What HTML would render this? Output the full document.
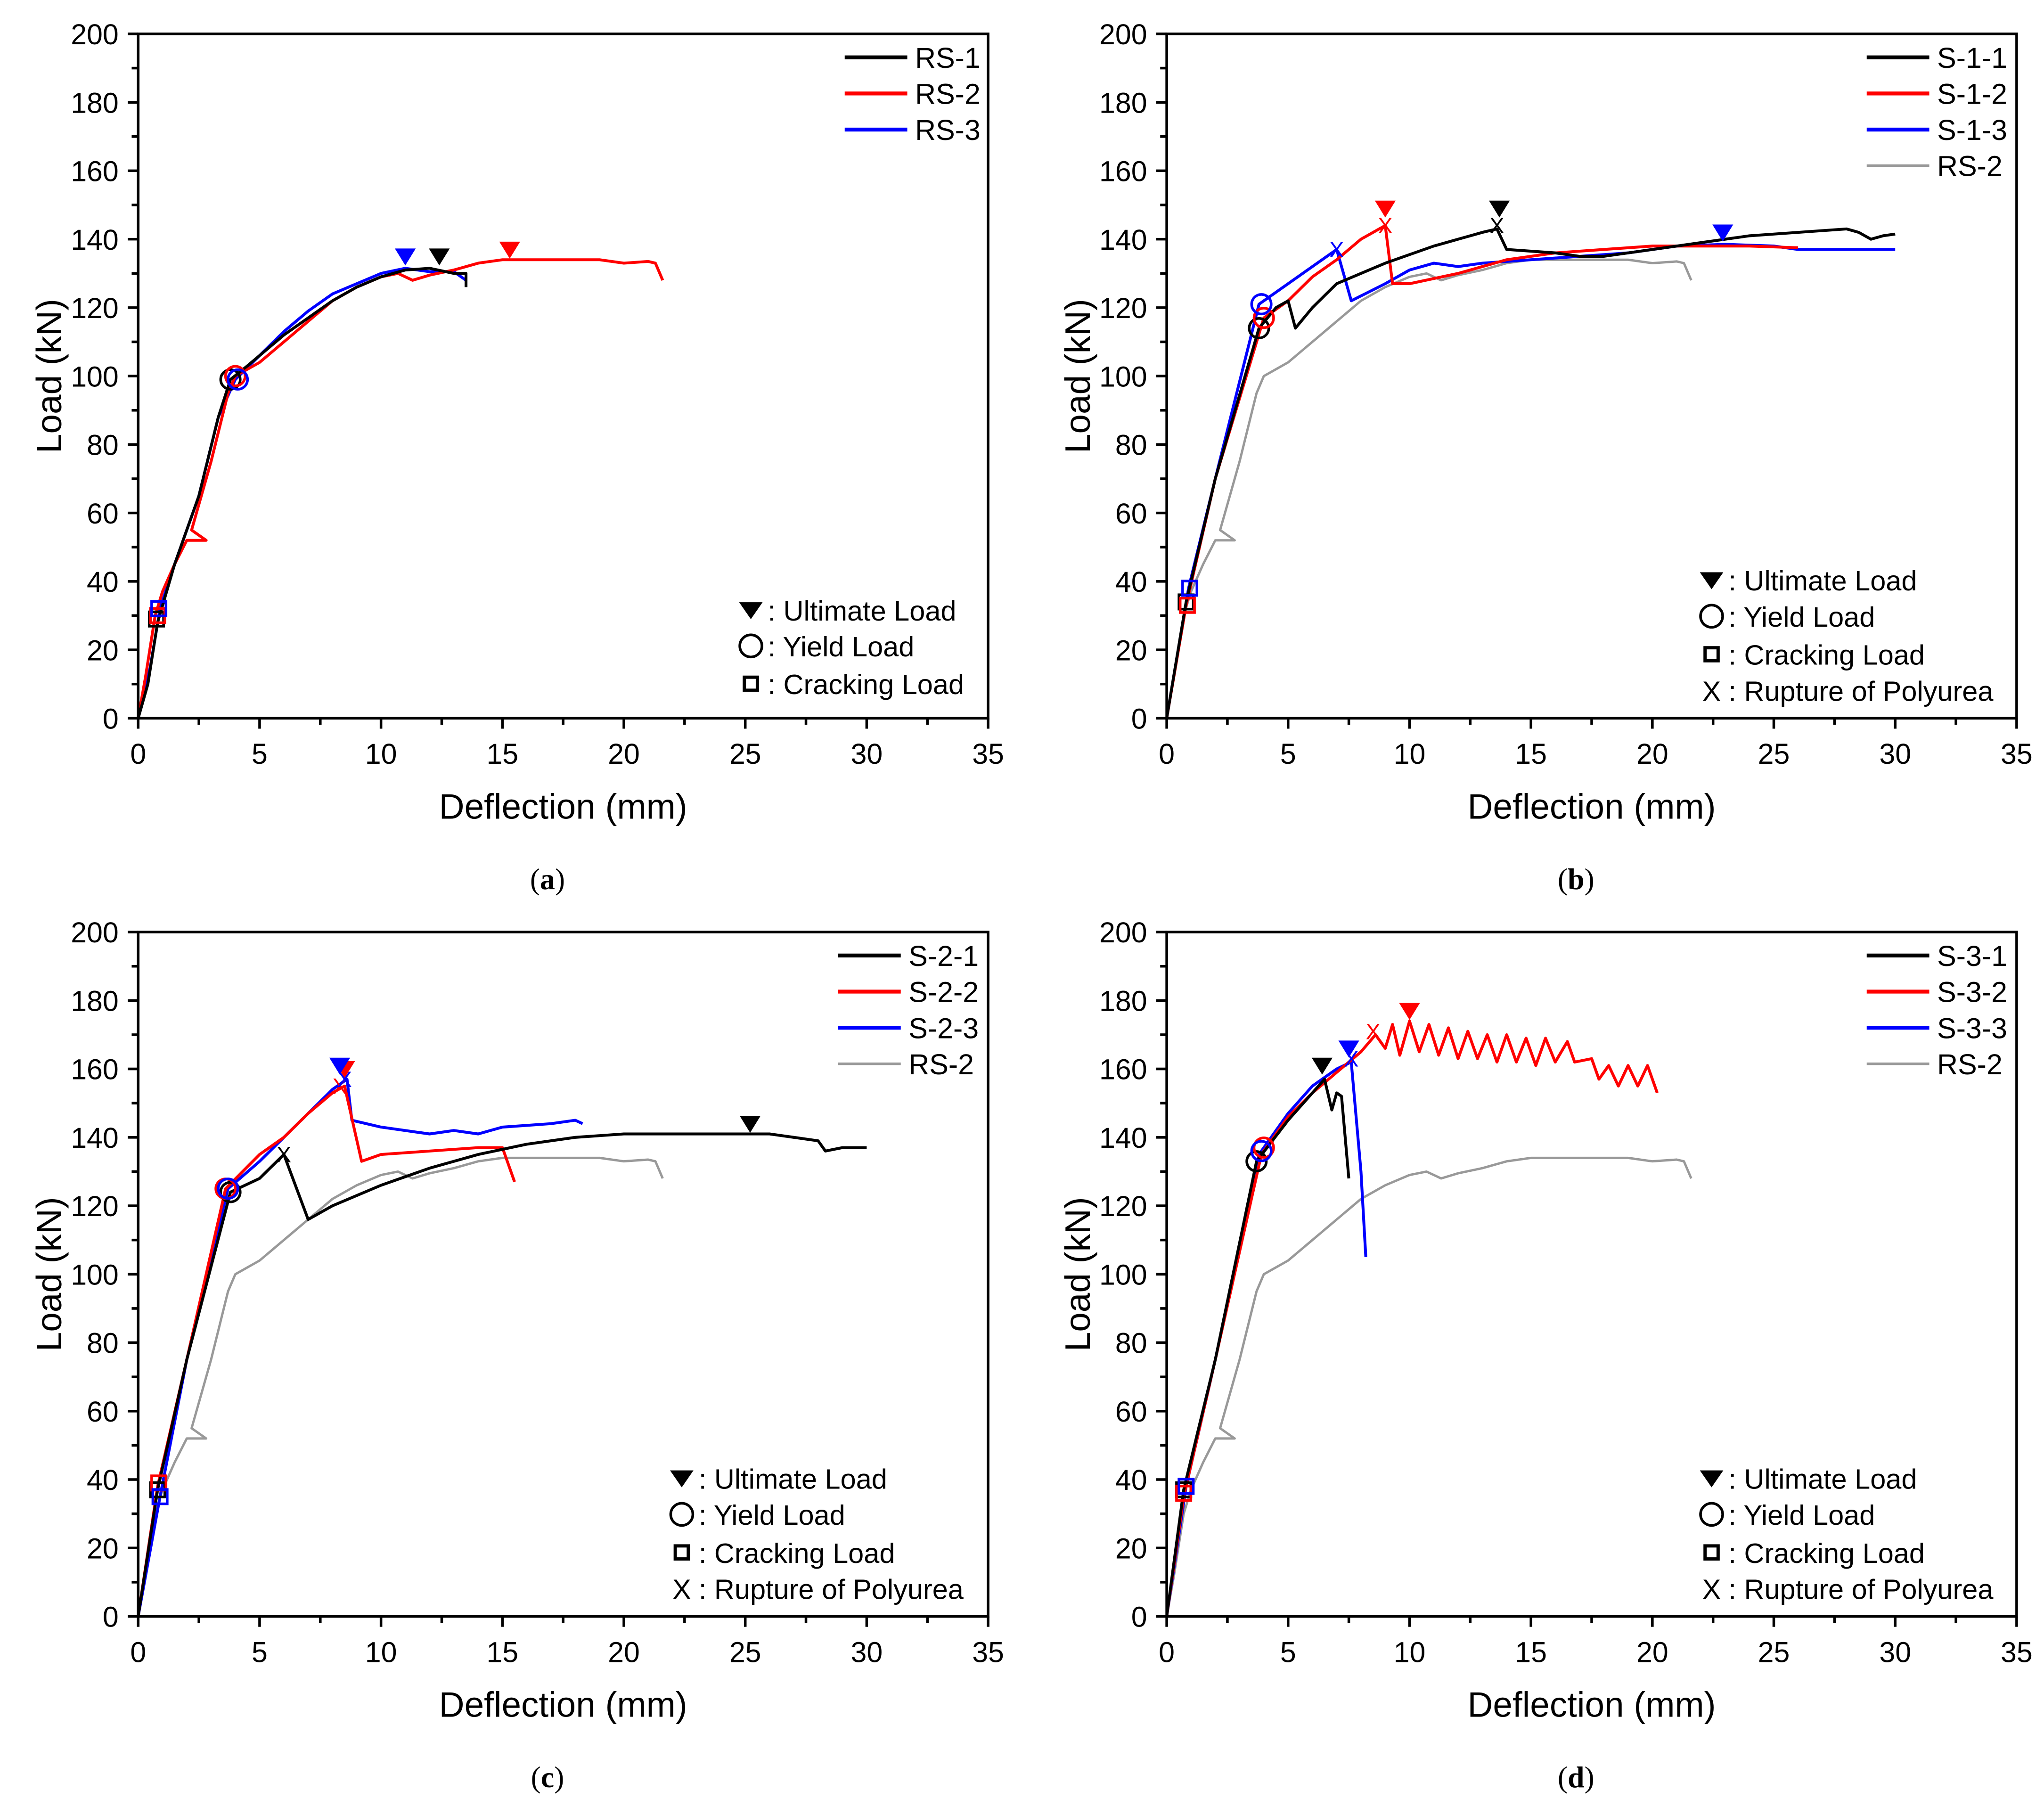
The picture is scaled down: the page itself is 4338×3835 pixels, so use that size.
<!DOCTYPE html>
<html><head><meta charset="utf-8">
<style>
html,body{margin:0;padding:0;background:#fff;}
svg{display:block;}
text{font-family:"Liberation Sans",Arial,sans-serif;fill:#000;}
.cap{font-family:"Liberation Serif",serif;}
</style></head>
<body>
<svg id="fig" width="4338" height="3835" viewBox="0 0 1568 1386.2" preserveAspectRatio="none" xmlns="http://www.w3.org/2000/svg"></svg>
<script>
// ---- data (deflection mm, load kN) ----
const rs1 = [[0,0],[0.4,10],[0.8,28],[1.5,45],[2.5,65],[3.3,88],[3.8,99],[4.5,103],[6,112],[7,117],[8,122],[9,126],[10,129],[11,131],[12,131.5],[13,130],[13.5,130],[13.5,126]];
const rs2 = [[0,0],[0.3,12],[0.7,30],[1,37],[1.5,45],[2,52],[2.8,52],[2.2,55],[3,75],[3.7,95],[4,100],[5,104],[6,110],[7,116],[8,122],[9,126],[10,129],[10.7,130],[11.3,128],[12,129.5],[13,131],[14,133],[15,134],[17,134],[19,134],[20,133],[21,133.5],[21.3,133],[21.6,128]];
const rs3 = [[0,0],[0.5,15],[0.9,32],[1.5,45],[2.5,65],[3.3,88],[4,99],[5,106],[6,113],[7,119],[8,124],[9,127],[10,130],[11,131.5],[12,130.5],[13,130.5],[13.5,128]];
const s11 = [[0,0],[0.8,34],[2,70],[3.8,114],[4.5,120],[5,122],[5.3,114],[6,120],[7,127],[9,133],[11,138],[13,142],[13.6,143],[14,137],[16,136],[17,135],[18,135],[20,137],[22,139],[24,141],[26,142],[28,143],[28.5,142],[29,140],[29.5,141],[30,141.5]];
const s12 = [[0,0],[0.8,33],[2,70],[4,117],[5,122],[6,129],[7,134],[8,140],[9,144],[9.3,127],[10,127],[12,130],[14,134],[16,136],[18,137],[20,138],[22,138],[24,138],[26,137.5]];
const s13 = [[0,0],[0.9,38],[2,70],[3.8,121],[5,127],[6,132],[7,137],[7.6,122],[9,127],[10,131],[11,133],[12,132],[13,133],[15,134],[17,135],[19,136],[21,138],[23,138.5],[25,138],[26,137],[28,137],[30,137]];
const s21 = [[0,0],[0.8,37],[2,75],[3.8,124],[5,128],[6,135],[7,116],[8,120],[10,126],[12,131],[14,135],[16,138],[18,140],[20,141],[22,141],[24,141],[26,141],[27,140],[28,139],[28.3,136],[29,137],[30,137]];
const s22 = [[0,0],[0.8,38],[2,75],[3.6,125],[5,135],[6,140],[7,147],[8,153],[8.5,155],[9.2,133],[10,135],[12,136],[14,137],[15,137],[15.5,127]];
const s23 = [[0,0],[0.9,35],[2,75],[3.7,125],[5,133],[6,140],[7,147],[8,154],[8.6,157],[8.8,145],[10,143],[12,141],[13,142],[14,141],[15,143],[17,144],[18,145],[18.3,144]];
const s31 = [[0,0],[0.7,37],[2,75],[3.7,133],[5,145],[6,153],[6.5,157],[6.8,148],[7,153],[7.2,152],[7.5,128]];
const s32 = [[0,0],[0.7,35],[2,75],[3.9,135],[5,146],[6,153],[7,159],[8,165],[8.6,170],[9,166],[9.3,173],[9.6,164],[10,174],[10.4,165],[10.8,173],[11.2,164],[11.6,172],[12,163],[12.4,171],[12.8,163],[13.2,170],[13.6,162],[14,170],[14.4,162],[14.8,169],[15.2,161],[15.6,169],[16,162],[16.5,168],[16.8,162],[17.5,163],[17.8,157],[18.2,161],[18.6,155],[19,161],[19.4,155],[19.8,161],[20.2,153]];
const s33 = [[0,0],[0.8,38],[2,75],[3.8,135],[5,147],[6,155],[7,160],[7.6,162],[8,130],[8.2,105]];
const xTicks = [0,5,10,15,20,25,30,35];
const yTicks = [0,20,40,60,80,100,120,140,160,180,200];

const NS="http://www.w3.org/2000/svg";
const svg=document.getElementById('fig');
function mk(tag,attrs,parent){const e=document.createElementNS(NS,tag);for(const k in attrs)e.setAttribute(k,attrs[k]);(parent||svg).appendChild(e);return e;}

const panels=[
 {id:'a',x0:106,y0:551,cap:'a',series:[['RS-1',rs1,'#000'],['RS-2',rs2,'#f00'],['RS-3',rs3,'#00f']],
  leg:{x:648,y:44},mleg:{x:576,y:468,rup:false},
  ult:[[11,135,'#00f'],[12.4,135,'#000'],[15.3,137,'#f00']],
  yld:[[3.8,99,'#000'],[4.0,100,'#f00'],[4.1,99,'#00f']],
  crk:[[0.75,29,'#000'],[0.8,30,'#f00'],[0.85,32,'#00f']],rup:[]},
 {id:'b',x0:895,y0:551,cap:'b',series:[['S-1-1',s11,'#000'],['S-1-2',s12,'#f00'],['S-1-3',s13,'#00f'],['RS-2',rs2,'#999']],
  leg:{x:1432,y:44},mleg:{x:1313,y:445,rup:true},
  ult:[[13.7,149,'#000'],[9,149,'#f00'],[22.9,142,'#00f']],
  yld:[[3.8,114,'#000'],[4,117,'#f00'],[3.9,121,'#00f']],
  crk:[[0.8,34,'#000'],[0.85,33,'#f00'],[0.95,38,'#00f']],
  rup:[[13.6,144,'#000'],[9,144,'#f00'],[7,137,'#00f']]},
 {id:'c',x0:106,y0:1240,cap:'c',series:[['S-2-1',s21,'#000'],['S-2-2',s22,'#f00'],['S-2-3',s23,'#00f'],['RS-2',rs2,'#999']],
  leg:{x:643,y:733},mleg:{x:523,y:1134,rup:true},
  ult:[[25.2,144,'#000'],[8.5,160,'#f00'],[8.3,161,'#00f']],
  yld:[[3.8,124,'#000'],[3.6,125,'#f00'],[3.7,125,'#00f']],
  crk:[[0.8,37,'#000'],[0.85,39,'#f00'],[0.9,35,'#00f']],
  rup:[[6,135,'#000'],[8.3,155,'#f00'],[8.5,157,'#00f']]},
 {id:'d',x0:895,y0:1240,cap:'d',series:[['S-3-1',s31,'#000'],['S-3-2',s32,'#f00'],['S-3-3',s33,'#00f'],['RS-2',rs2,'#999']],
  leg:{x:1432,y:733},mleg:{x:1313,y:1134,rup:true},
  ult:[[6.4,161,'#000'],[10,177,'#f00'],[7.5,166,'#00f']],
  yld:[[3.7,133,'#000'],[4,137,'#f00'],[3.9,136,'#00f']],
  crk:[[0.7,37,'#000'],[0.7,36,'#f00'],[0.8,38,'#00f']],
  rup:[[8.5,171,'#f00'],[7.6,163,'#00f']]}
];
const W=652,H=525;

panels.forEach(p=>{
 const g=mk('g',{});
 
 
 const X=v=>p.x0+v/35*W, Y=v=>p.y0-v/200*H;
 const order=p.series.slice().reverse();
 order.forEach(s=>{
  const d=s[1].map((pt,i)=>(i?'L':'M')+X(pt[0]).toFixed(2)+' '+Y(pt[1]).toFixed(2)).join(' ');
  const pa=mk('path',{d:d,fill:'none',stroke:s[2],'stroke-width':s[2]==='#999'?1.8:2.2,'stroke-linejoin':'round'},g);
  
  
 });
 p.ult.forEach(m=>{const x=X(m[0]),y=Y(m[1]);
  const t=mk('path',{d:`M${x-8} ${y-6} L${x+8} ${y-6} L${x} ${y+7} Z`,fill:m[2]},g);
  });
 p.yld.forEach(m=>{const c=mk('circle',{cx:X(m[0]),cy:Y(m[1]),r:7.5,fill:'none',stroke:m[2],'stroke-width':2},g);
  });
 p.crk.forEach(m=>{const r=mk('rect',{x:X(m[0])-5.5,y:Y(m[1])-5.5,width:11,height:11,fill:'none',stroke:m[2],'stroke-width':2},g);
  });
 p.rup.forEach(m=>{const t=mk('text',{x:X(m[0]),y:Y(m[1])+6,'text-anchor':'middle','font-size':17,style:'fill:'+m[2]},g);t.textContent='X';
  });
 const fr=mk('rect',{x:p.x0,y:p.y0-H,width:W,height:H,fill:'none',stroke:'#000','stroke-width':2},g);
 
 for(let v=0;v<=35;v+=2.5){const major=v%5===0;mk('line',{x1:X(v),x2:X(v),y1:p.y0,y2:p.y0+(major?8:5),stroke:'#000','stroke-width':2},g);}
 for(let v=0;v<=200;v+=10){const major=v%20===0;mk('line',{x1:p.x0,x2:p.x0-(major?8:5),y1:Y(v),y2:Y(v),stroke:'#000','stroke-width':2},g);}
 xTicks.forEach(v=>{const t=mk('text',{x:X(v),y:p.y0+35,'text-anchor':'middle','font-size':22},g);t.textContent=v;
  });
 yTicks.forEach(v=>{const t=mk('text',{x:p.x0-15,y:Y(v)+8,'text-anchor':'end','font-size':22},g);t.textContent=v;
  });
 const xt=mk('text',{x:p.x0+W/2,y:p.y0+77,'text-anchor':'middle','font-size':27},g);xt.textContent='Deflection (mm)';
 
 const yc=p.y0-H/2;
 const yt=mk('text',{x:p.x0-68,y:yc,'text-anchor':'middle','font-size':27,transform:`rotate(-90 ${p.x0-68} ${yc}) translate(0 9)`},g);yt.textContent='Load (kN)';
 
 const cp=mk('text',{x:p.x0+W/2-12,y:p.y0+131,'text-anchor':'middle','font-size':23,'class':'cap'},g);
 const t1=mk('tspan',{},cp);t1.textContent='(';const t2=mk('tspan',{'font-weight':'bold'},cp);t2.textContent=p.cap;const t3=mk('tspan',{},cp);t3.textContent=')';
 
 p.series.forEach((s,i)=>{const y=p.leg.y+i*27.7;
  const le=mk('g',{},g);
  
  mk('line',{x1:p.leg.x,x2:p.leg.x+48,y1:y,y2:y,stroke:s[2],'stroke-width':s[2]==='#999'?2:3},le);
  const t=mk('text',{x:p.leg.x+54,y:y+8,'font-size':22},le);t.textContent=s[0];
 });
 const mx=p.mleg.x; let my=p.mleg.y; const step=p.mleg.rup?27.7:27.5;
 const ml=mk('g',{},g);
 mk('path',{d:`M${mx-9} ${my-6} L${mx+9} ${my-6} L${mx} ${my+7} Z`,fill:'#000'},ml);
 let t=mk('text',{x:mx+13,y:my+8,'font-size':21.5},ml);t.textContent=': Ultimate Load';
 my+=step; mk('circle',{cx:mx,cy:my,r:8.5,fill:'none',stroke:'#000','stroke-width':2},ml);
 t=mk('text',{x:mx+13,y:my+8,'font-size':21.5},ml);t.textContent=': Yield Load';
 my+=step+1.5; mk('rect',{x:mx-5,y:my-5,width:10,height:10,fill:'none',stroke:'#000','stroke-width':2.5},ml);
 t=mk('text',{x:mx+13,y:my+8,'font-size':21.5},ml);t.textContent=': Cracking Load';
 if(p.mleg.rup){my+=step; t=mk('text',{x:mx,y:my+8,'font-size':21.5,'text-anchor':'middle'},ml);t.textContent='X';
  t=mk('text',{x:mx+13,y:my+8,'font-size':21.5},ml);t.textContent=': Rupture of Polyurea';}
});
</script>
</body></html>
